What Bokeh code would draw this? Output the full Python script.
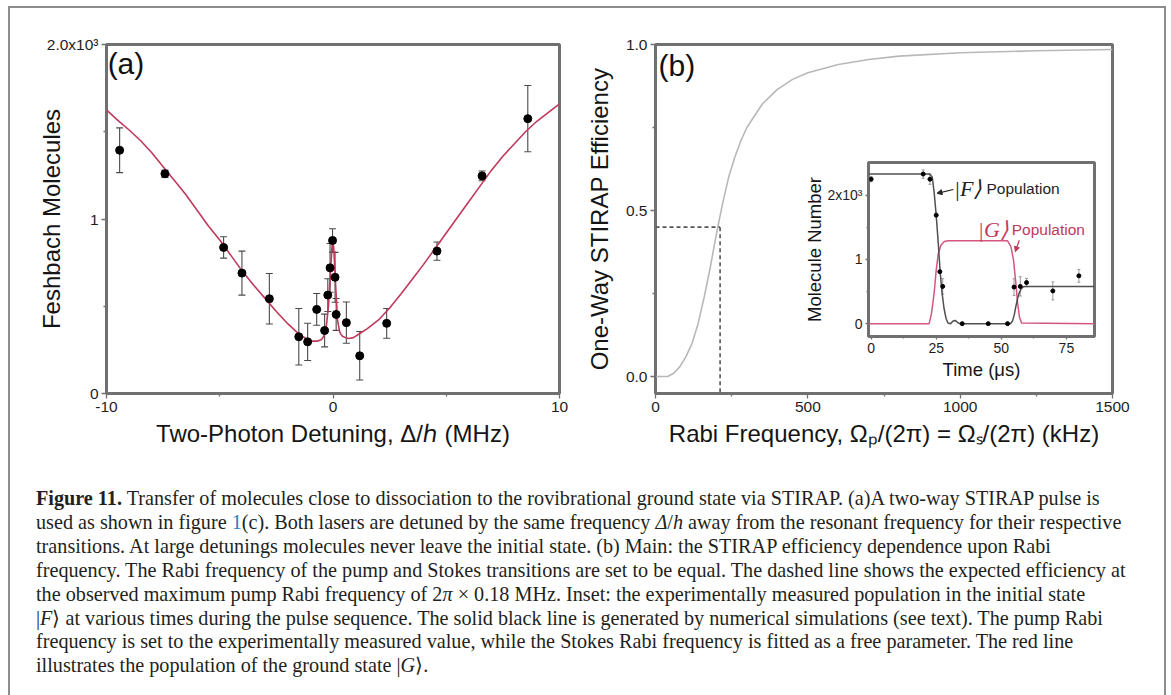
from bokeh.plotting import figure
from bokeh.models import (ColumnDataSource, Whisker, TeeHead, FixedTicker, Label,
                          Arrow, NormalHead, Div, Range1d)
from bokeh.layouts import row, column
from bokeh.embed import file_html
from bokeh.resources import INLINE

# ---------------- data: panel (a) ----------------
detuning_mhz = [-9.42, -7.42, -4.83, -4.02, -2.81, -1.51, -1.12, -0.72, -0.37, -0.23,
                -0.13, -0.02, 0.09, 0.14, 0.59, 1.18, 2.37, 4.59, 6.58, 8.6]
molecules_k = [1.394, 1.259, 0.837, 0.690, 0.543, 0.325, 0.296, 0.482, 0.361, 0.564,
               0.720, 0.877, 0.666, 0.453, 0.406, 0.216, 0.402, 0.816, 1.247, 1.575]
molecules_err_k = [0.128, 0.021, 0.061, 0.126, 0.145, 0.162, 0.107, 0.091, 0.094, 0.094,
                   0.140, 0.067, 0.143, 0.091, 0.118, 0.139, 0.085, 0.052, 0.028, 0.190]

fit_detuning_mhz = [-10, -9.5, -9, -8.5, -8, -7.5, -7, -6.5, -6, -5.5, -5, -4.5, -4, -3.5,
                    -3, -2.5, -2, -1.5, -1.2, -0.9, -0.7, -0.5, -0.4, -0.3, -0.2, -0.1,
                    -0.03, 0.03, 0.1, 0.2, 0.3, 0.4, 0.55, 0.7, 0.9, 1.2, 1.5, 2, 2.5, 3,
                    3.5, 4, 4.5, 5, 5.5, 6, 6.5, 7, 7.5, 8, 8.5, 9, 9.5, 10]
fit_molecules_k = [1.625, 1.565, 1.51, 1.45, 1.38, 1.30, 1.22, 1.14, 1.05, 0.96, 0.88, 0.79,
                   0.70, 0.62, 0.545, 0.47, 0.40, 0.34, 0.315, 0.30, 0.30, 0.31, 0.33, 0.38,
                   0.50, 0.72, 0.866, 0.84, 0.66, 0.42, 0.35, 0.33, 0.32, 0.315, 0.32, 0.345,
                   0.37, 0.42, 0.49, 0.57, 0.655, 0.74, 0.83, 0.92, 1.01, 1.10, 1.19, 1.28,
                   1.36, 1.43, 1.50, 1.56, 1.61, 1.66]

# ---------------- data: panel (b) ----------------
rabi_khz = [0, 40, 60, 80, 100, 120, 140, 160, 180, 200, 220, 240, 260, 280, 300, 350,
            400, 450, 500, 600, 700, 800, 1000, 1250, 1500]
stirap_eff = [0.0, 0.0, 0.01, 0.03, 0.06, 0.10, 0.16, 0.24, 0.33, 0.43, 0.52, 0.60, 0.66,
              0.71, 0.75, 0.82, 0.865, 0.895, 0.915, 0.94, 0.955, 0.965, 0.975, 0.981, 0.985]
pump_rabi_khz = 212
pump_eff = 0.45

# ---------------- data: inset ----------------
time_us = [0, 20, 22.6, 25, 26.4, 27.5, 35, 45, 52.4, 54.9, 57.3, 59.7, 69.8, 79.8]
f_pop_k = [2.25, 2.33, 2.25, 1.69, 0.81, 0.58, 0.0, 0.0, 0.0, 0.57, 0.58, 0.64, 0.51, 0.745]
f_pop_err_k = [0.04, 0.065, 0.08, 0.0, 0.0, 0.12, 0.0, 0.0, 0.0, 0.13, 0.15, 0.065, 0.14, 0.10]

f_sim_time_us = [-1, 22.5, 23.5, 24.2, 25.0, 25.8, 26.5, 27.2, 28.0, 28.8, 29.5, 30.5, 31.5,
                 32.3, 33.2, 34, 53.5, 54.3, 55, 55.6, 56.3, 56.9, 57.6, 58.3, 59, 85.8]
f_sim_pop_k = [2.33, 2.33, 2.28, 2.05, 1.69, 1.25, 0.82, 0.5, 0.24, 0.08, 0.01, 0.0, 0.04,
               0.05, 0.02, 0.0, 0.0, 0.04, 0.14, 0.27, 0.4, 0.48, 0.54, 0.57, 0.58, 0.58]
g_sim_time_us = [-1, 22.3, 23.2, 24.2, 25.0, 25.8, 26.8, 28.1, 29.5, 52.4, 53.7, 54.7, 55.6,
                 56.3, 57.0, 57.8, 85.8]
g_sim_pop_k = [0, 0, 0.16, 0.47, 0.83, 1.09, 1.22, 1.28, 1.29, 1.29, 1.2, 0.99, 0.63, 0.31,
               0.1, 0.01, 0]

# annotation anchors (inset data units)
f_label_pos = (31.8, 2.11)
f_word_pos = (44.3, 2.11)
f_arrow = (31.6, 2.09, 25.3, 2.03)
g_label_pos = (41.0, 1.47)
g_word_pos = (54.0, 1.47)
g_arrow = (56.9, 1.30, 55.4, 1.12)

# ticks
a_xticks, a_xminor = [-10, 0, 10], [-5, 5]
a_xlabels = {-10: "-10", 0: "0", 10: "10"}
a_yticks, a_yminor = [0, 1, 2], [0.5, 1.5]
a_ylabels = {0: "0", 1: "1", 2: "2.0x10\u00b3"}
b_xticks, b_xminor = [0, 500, 1000, 1500], [250, 750, 1250]
b_yticks, b_yminor = [0, 0.5, 1.0], [0.25, 0.75]
b_ylabels = {0: "0.0", 0.5: "0.5", 1: "1.0"}
i_xticks, i_xminor = [0, 25, 50, 75], [12.5, 37.5, 62.5]
i_yticks, i_yminor = [0, 1, 2], [0.5, 1.5]
i_ylabels = {0: "0", 1: "1", 2: "2x10\u00b3"}

SANS = "Liberation Sans"
AX = "#707070"
RED = "#c0395c"
RED2 = "#d4577d"

# shared top/bottom borders so row frame alignment is a no-op
TOP, BOTTOM = 36, 72


def style(p, xt, xm, yt, ym, tick_fs, tick_out, lab_fs, xstand, ystand,
          xlabels=None, ylabels=None):
    p.grid.visible = False
    p.border_fill_alpha = 0.0
    p.background_fill_color = "white"
    p.outline_line_color = AX
    p.outline_line_width = 3
    p.outline_line_alpha = 1.0
    for ax in (p.xaxis[0], p.yaxis[0]):
        ax.axis_line_color = AX
        ax.axis_line_width = 1.5
        ax.major_tick_line_color = AX
        ax.major_tick_line_width = 1.3
        ax.minor_tick_line_color = AX
        ax.minor_tick_line_width = 1.3
        ax.major_tick_out = tick_out
        ax.major_tick_in = 0
        ax.minor_tick_out = max(2, int(tick_out * 0.6))
        ax.minor_tick_in = 0
        ax.major_label_text_font = SANS
        ax.major_label_text_font_size = tick_fs
        ax.major_label_text_color = "#1e1e1e"
        ax.major_label_standoff = 3
        ax.axis_label_text_font = SANS
        ax.axis_label_text_font_size = lab_fs
        ax.axis_label_text_font_style = "normal"
        ax.axis_label_text_color = "#151515"
    p.xaxis[0].ticker = FixedTicker(ticks=xt, minor_ticks=xm)
    p.yaxis[0].ticker = FixedTicker(ticks=yt, minor_ticks=ym)
    p.xaxis[0].axis_label_standoff = xstand
    p.yaxis[0].axis_label_standoff = ystand
    if xlabels:
        p.xaxis[0].major_label_overrides = xlabels
    if ylabels:
        p.yaxis[0].major_label_overrides = ylabels


# ---------------- panel (a) ----------------
pa = figure(frame_width=453, frame_height=349, x_range=Range1d(-10, 10), y_range=Range1d(0, 2),
            output_backend="svg", toolbar_location=None, title_location=None,
            min_border_left=96, min_border_right=20, min_border_top=TOP,
            min_border_bottom=BOTTOM)
pa.xaxis.axis_label = "Two-Photon Detuning, \u0394/\u210e (MHz)"
pa.yaxis.axis_label = "Feshbach Molecules"
style(pa, a_xticks, a_xminor, a_yticks, a_yminor, "15.5px", 5, "24px", 5, -21,
      xlabels=a_xlabels, ylabels=a_ylabels)

pa.line(fit_detuning_mhz, fit_molecules_k, line_color=RED, line_width=1.6)
src_a = ColumnDataSource(dict(x=detuning_mhz, y=molecules_k,
                              upper=[v + e for v, e in zip(molecules_k, molecules_err_k)],
                              lower=[v - e for v, e in zip(molecules_k, molecules_err_k)]))
wa = Whisker(base="x", upper="upper", lower="lower", source=src_a, line_color="#4a4a4a",
             line_width=1.1,
             upper_head=TeeHead(size=7, line_color="#4a4a4a", line_width=1.1),
             lower_head=TeeHead(size=7, line_color="#4a4a4a", line_width=1.1))
pa.add_layout(wa)
pa.scatter("x", "y", source=src_a, size=8, color="black")
pa.add_layout(Label(x=-9.95, y=1.985, text="(a)", text_font=SANS, text_font_size="30px",
                    text_baseline="top", text_color="#111"))

# ---------------- panel (b) ----------------
pb = figure(frame_width=457, frame_height=349, x_range=Range1d(0, 1500),
            y_range=Range1d(-0.051, 1.0), output_backend="svg", toolbar_location=None,
            title_location=None,
            min_border_left=76, min_border_right=52, min_border_top=TOP,
            min_border_bottom=BOTTOM)
pb.xaxis.axis_label = "Rabi Frequency, \u03a9\u209a/(2\u03c0) = \u03a9\u209b/(2\u03c0) (kHz)"
pb.yaxis.axis_label = "One-Way STIRAP Efficiency"
style(pb, b_xticks, b_xminor, b_yticks, b_yminor, "15.5px", 5, "24px", 5, 10, ylabels=b_ylabels)
pb.line(rabi_khz, stirap_eff, line_color="#b8b8b8", line_width=1.6)
y_bottom = pb.y_range.start
pb.line([rabi_khz[0], pump_rabi_khz], [pump_eff, pump_eff], line_color="#555555",
        line_width=1.6, line_dash="4 3")
pb.line([pump_rabi_khz, pump_rabi_khz], [pump_eff, y_bottom], line_color="#555555",
        line_width=1.6, line_dash="4 3")
pb.add_layout(Label(x=10, y=0.985, text="(b)", text_font=SANS, text_font_size="30px",
                    text_baseline="top", text_color="#111"))

# ---------------- inset ----------------
pi = figure(frame_width=226, frame_height=174, x_range=Range1d(-1, 85.8),
            y_range=Range1d(-0.2, 2.51), output_backend="svg", toolbar_location=None,
            title_location=None,
            min_border_left=78, min_border_right=10, min_border_top=TOP,
            min_border_bottom=BOTTOM, margin=(118, 60, 0, -374))
pi.xaxis.axis_label = "Time (\u03bcs)"
pi.yaxis.axis_label = "Molecule Number"
style(pi, i_xticks, i_xminor, i_yticks, i_yminor, "14px", 3, "18.5px", 3, -1, ylabels=i_ylabels)
pi.line(g_sim_time_us, g_sim_pop_k, line_color=RED2, line_width=1.5)
pi.line(f_sim_time_us, f_sim_pop_k, line_color="#505050", line_width=1.5)
src_i = ColumnDataSource(dict(x=time_us, y=f_pop_k,
                              upper=[v + e for v, e in zip(f_pop_k, f_pop_err_k)],
                              lower=[v - e for v, e in zip(f_pop_k, f_pop_err_k)]))
wi = Whisker(base="x", upper="upper", lower="lower", source=src_i, line_color="#9a9a9a",
             line_width=1.0,
             upper_head=TeeHead(size=3, line_color="#9a9a9a", line_width=1.0),
             lower_head=TeeHead(size=3, line_color="#9a9a9a", line_width=1.0))
pi.add_layout(wi)
pi.scatter("x", "y", source=src_i, size=4, color="black")

pi.add_layout(Label(x=f_label_pos[0], y=f_label_pos[1], text="|F\u27e9",
                    text_font="Liberation Serif", text_font_style="italic",
                    text_font_size="22px", text_baseline="middle", text_color="#222"))
pi.add_layout(Label(x=f_word_pos[0], y=f_word_pos[1], text="Population", text_font=SANS,
                    text_font_size="15.5px", text_baseline="middle", text_color="#222"))
pi.add_layout(Label(x=g_label_pos[0], y=g_label_pos[1], text="|G\u27e9",
                    text_font="Liberation Serif", text_font_style="italic",
                    text_font_size="22px", text_baseline="middle", text_color=RED))
pi.add_layout(Label(x=g_word_pos[0], y=g_word_pos[1], text="Population", text_font=SANS,
                    text_font_size="15.5px", text_baseline="middle", text_color=RED))
pi.add_layout(Arrow(x_start=f_arrow[0], y_start=f_arrow[1], x_end=f_arrow[2], y_end=f_arrow[3],
                    line_color="#222", line_width=1.2,
                    end=NormalHead(size=5, fill_color="#222", line_color="#222")))
pi.add_layout(Arrow(x_start=g_arrow[0], y_start=g_arrow[1], x_end=g_arrow[2], y_end=g_arrow[3],
                    line_color=RED, line_width=1.2,
                    end=NormalHead(size=5, fill_color=RED, line_color=RED)))

# ---------------- caption ----------------
caption_lines = [
    "<b>Figure 11.</b> Transfer of molecules close to dissociation to the rovibrational ground state via STIRAP. (a)A two-way STIRAP pulse is",
    "used as shown in figure <span style='color:#2b7bb9'>1</span>(c). Both lasers are detuned by the same frequency <i>\u0394</i>/<i>h</i> away from the resonant frequency for their respective",
    "transitions. At large detunings molecules never leave the initial state. (b) Main: the STIRAP efficiency dependence upon Rabi",
    "frequency. The Rabi frequency of the pump and Stokes transitions are set to be equal. The dashed line shows the expected efficiency at",
    "the observed maximum pump Rabi frequency of 2<i>\u03c0</i> \u00d7 0.18 MHz. Inset: the experimentally measured population in the initial state",
    "|<i>F</i>\u27e9 at various times during the pulse sequence. The solid black line is generated by numerical simulations (see text). The pump Rabi",
    "frequency is set to the experimentally measured value, while the Stokes Rabi frequency is fitted as a free parameter. The red line",
    "illustrates the population of the ground state |<i>G</i>\u27e9.",
]
cap_html = ("<div style=\"font-family:'Liberation Serif';font-size:20.2px;line-height:23.9px;"
            "color:#231f20;white-space:nowrap;margin:0;padding:0\">"
            + "<br>".join(caption_lines) + "</div>")
cap = Div(text=cap_html, width=1120, height=192, margin=(22, 0, 17, 26))

layout = column(row(pa, pb, pi), cap, margin=(6, 0, 0, 8),
                styles={"border": "2px solid #8d8d8d"})

open("out.html", "w").write(file_html(layout, INLINE))
